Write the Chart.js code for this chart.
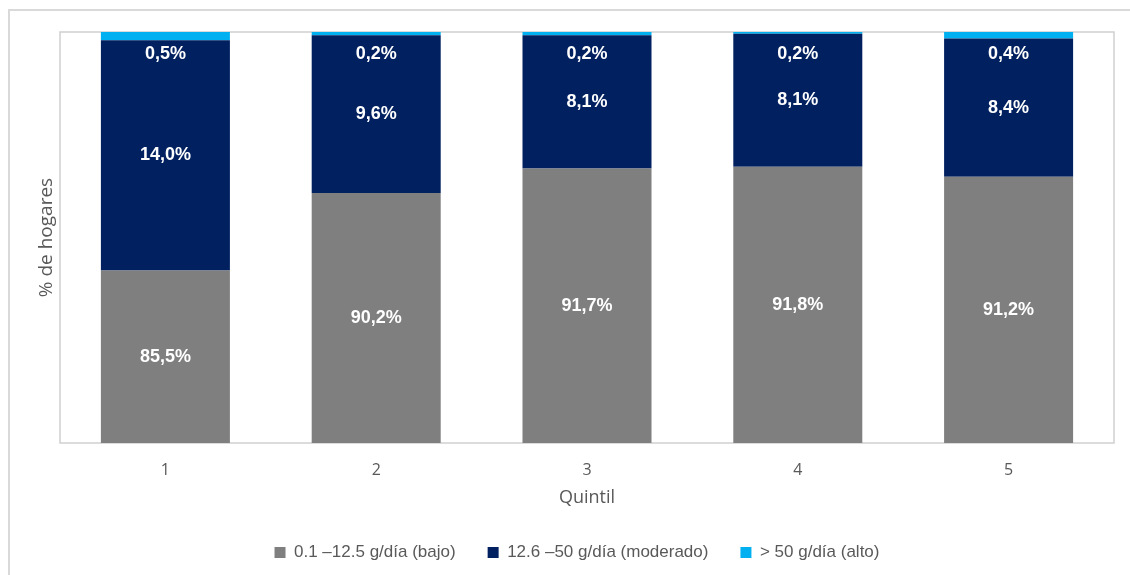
<!DOCTYPE html>
<html>
<head>
<meta charset="utf-8">
<script src="https://cdn.jsdelivr.net/npm/chart.js@4/dist/chart.umd.min.js"></script>
<style>
  html, body { margin: 0; padding: 0; background: #fff; }
  #frame {
    position: absolute; left: 8px; top: 9px; width: 1140px; height: 600px;
    border-left: 2px solid #d9d9d9; border-top: 2px solid #d9d9d9;
  }
  #wrap { position: absolute; left: 0; top: 0; width: 1130px; height: 575px; }
</style>
</head>
<body>
<div id="frame"></div>
<div id="wrap"><canvas id="chart"></canvas></div>
<script>
var quintiles = ['1', '2', '3', '4', '5'];
var bajo = [85.5, 90.2, 91.7, 91.8, 91.2];
var moderado = [14.0, 9.6, 8.1, 8.1, 8.4];
var alto = [0.5, 0.2, 0.2, 0.2, 0.4];
var seriesNames = ['0.1 \u201312.5 g/d\u00eda (bajo)', '12.6 \u201350 g/d\u00eda (moderado)', '> 50 g/d\u00eda (alto)'];
var seriesColors = ['#7f7f7f', '#002060', '#00b0f0'];

var axisFont = 'Open Sans, Liberation Sans, Arial, sans-serif';
var textGray = '#595959';

function pct (v) {
  return v.toFixed(1).replace('.', ',') + '%';
}

// light gray box round the plot area
const plotBorder = {
  id: 'plotBorder',
  beforeDatasetsDraw (chart) {
    const a = chart.chartArea;
    const ctx = chart.ctx;
    ctx.save();
    ctx.strokeStyle = '#d0d0d0';
    ctx.lineWidth = 1.5;
    ctx.strokeRect(a.left, a.top, a.right - a.left, a.bottom - a.top);
    ctx.restore();
  }
};

// push the legend a bit to the right of the canvas centre
const legendShift = {
  id: 'legendShift',
  afterLayout (chart) {
    chart.legend.left += 20;
    chart.legend.right += 20;
  }
};

// white value labels inside the segments
const segmentLabels = {
  id: 'segmentLabels',
  afterDatasetsDraw (chart) {
    const ctx = chart.ctx;
    const a = chart.chartArea;
    ctx.save();
    ctx.fillStyle = '#ffffff';
    ctx.font = 'bold 18px Liberation Sans, Arial, sans-serif';
    ctx.textAlign = 'center';
    ctx.textBaseline = 'middle';
    chart.data.datasets.forEach(function (ds, d) {
      chart.getDatasetMeta(d).data.forEach(function (bar, i) {
        let y;
        if (d === 2) {
          y = a.top + 22;
        } else {
          const top = Math.max(bar.y, a.top);
          const bottom = Math.min(bar.base, a.bottom);
          y = (top + bottom) / 2;
        }
        ctx.fillText(pct(ds.data[i]), bar.x, y);
      });
    });
    ctx.restore();
  }
};

const ctx = document.getElementById('chart').getContext('2d');
const chart = new Chart(ctx, {
  type: 'bar',
  data: {
    labels: quintiles,
    datasets: [
      { label: seriesNames[0], data: bajo, backgroundColor: seriesColors[0] },
      { label: seriesNames[1], data: moderado, backgroundColor: seriesColors[1] },
      { label: seriesNames[2], data: alto, backgroundColor: seriesColors[2] }
    ]
  },
  options: {
    responsive: true,
    maintainAspectRatio: false,
    animation: false,
    datasets: { bar: { categoryPercentage: 1.0, barPercentage: 0.612 } },
    layout: { padding: { left: 0, right: 16, top: 32, bottom: 4 } },
    scales: {
      x: {
        stacked: true,
        grid: { display: false, drawTicks: false },
        border: { display: false },
        ticks: { color: textGray, padding: 18, font: { family: axisFont, size: 16 } },
        title: {
          display: true, text: 'Quintil', color: textGray,
          font: { family: axisFont, size: 18 }, padding: { top: 0, bottom: 3 }
        },
        afterFit: function (scale) { scale.height = 69; }
      },
      y: {
        stacked: true,
        min: 75,
        max: 100,
        grid: { display: false, drawTicks: false },
        border: { display: false },
        ticks: { display: false },
        title: {
          display: true, text: '% de hogares', color: textGray,
          font: { family: axisFont, size: 19 }, padding: { top: 35, bottom: 0 }
        },
        afterFit: function (scale) { scale.width = 60; }
      }
    },
    plugins: {
      legend: {
        position: 'bottom',
        labels: {
          color: textGray,
          boxWidth: 11,
          boxHeight: 11,
          padding: 32,
          font: { family: 'Liberation Sans, Arial, sans-serif', size: 17 }
        }
      },
      tooltip: { enabled: false }
    }
  },
  plugins: [plotBorder, legendShift, segmentLabels]
});
</script>
</body>
</html>
